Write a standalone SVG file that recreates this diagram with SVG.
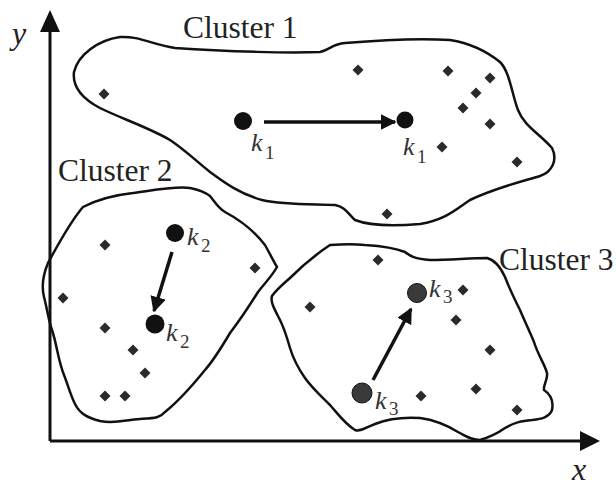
<svg xmlns="http://www.w3.org/2000/svg" width="616" height="488" viewBox="0 0 616 488">
<style>
.outline{fill:none;stroke:#111;stroke-width:2.5;stroke-linejoin:round}
.axis{fill:none;stroke:#111;stroke-width:3}
.arr{fill:none;stroke:#111;stroke-width:3.5}
.lbl{font-family:"Liberation Serif","Times New Roman",serif;font-size:31.5px;fill:#222}
.k{font-family:"Liberation Serif","Times New Roman",serif;font-style:italic;font-size:26px;fill:#333}
.sub{font-family:"Liberation Serif","Times New Roman",serif;font-size:19px;fill:#333}
.ax{font-family:"Liberation Serif","Times New Roman",serif;font-style:italic;font-size:32px;fill:#222}
.c{fill:#111}
.c3{fill:#3a3a3a;stroke:#111;stroke-width:1}
</style>
<defs>
<path id="d" d="M0,-5.5 L5.5,0 L0,5.5 L-5.5,0 Z" fill="#2a2a2a"/>
<marker id="ah" viewBox="0 0 10 10" refX="9" refY="5" markerWidth="4.5" markerHeight="4.5" markerUnits="strokeWidth" orient="auto">
<path d="M0,0 L10,5 L0,10 Z" fill="#111"/>
</marker>
</defs>
<rect width="616" height="488" fill="#fff"/>
<g id="axes">
<path class="axis" d="M50,441 V30"/>
<path d="M50,10 L40,32 L60,32 Z" fill="#111"/>
<path class="axis" d="M50,441 H582"/>
<path d="M600,441 L580,431 L580,451 Z" fill="#111"/>
<text class="ax" x="12" y="44">y</text>
<text class="ax" x="572" y="480">x</text>
</g>
<g id="cluster1">
<path class="outline" d="M120,37 C140,36 150,44 175,48 C230,52 290,53 320,52 C330,50 332,44 345,43 C380,40 420,38 450,40 C475,44 490,54 500,62 C510,72 512,95 518,110 C524,126 540,134 552,148 C558,160 552,172 540,176 C520,182 495,188 470,200 C455,210 445,220 420,224 C395,226 370,226 355,220 C348,214 346,207 335,205 C310,204 285,205 262,200 C240,194 225,183 210,172 C195,160 185,150 170,140 C150,128 120,118 100,108 C85,100 72,88 74,72 C78,55 98,40 120,37 Z"/>
<text class="lbl" x="183" y="38">Cluster 1</text>
<use href="#d" x="104" y="94"/>
<use href="#d" x="358" y="70"/>
<use href="#d" x="448" y="71"/>
<use href="#d" x="490" y="78"/>
<use href="#d" x="476" y="93"/>
<use href="#d" x="463" y="108"/>
<use href="#d" x="490" y="124"/>
<use href="#d" x="442" y="147"/>
<use href="#d" x="517" y="162"/>
<use href="#d" x="387" y="214"/>
<circle class="c" cx="243" cy="121" r="9"/>
<circle class="c" cx="405" cy="120" r="8.5"/>
<text class="k" x="251" y="151">k</text><text class="sub" x="265" y="159">1</text>
<text class="k" x="403" y="155">k</text><text class="sub" x="417" y="163">1</text>
</g>
<g id="cluster2">
<path class="outline" d="M83,207 C100,198 115,195 133,193 C155,190 175,186 190,188 C200,190 205,192 210,196 C215,202 218,208 225,212 C240,220 255,232 265,245 C270,254 274,262 277,267 C272,276 265,283 258,292 C248,308 240,320 230,333 C220,350 212,362 205,370 C192,386 180,400 165,412 C160,418 155,418 140,419 C125,420 115,424 100,421 C88,418 80,414 75,404 C70,394 68,385 64,375 C58,360 57,345 52,330 C48,318 47,308 44,297 C41,285 43,275 48,263 C55,250 70,222 83,207 Z"/>
<text class="lbl" x="58" y="181">Cluster 2</text>
<use href="#d" x="105" y="245"/>
<use href="#d" x="63" y="298"/>
<use href="#d" x="255" y="268"/>
<use href="#d" x="105" y="328"/>
<use href="#d" x="133" y="350"/>
<use href="#d" x="145" y="373"/>
<use href="#d" x="105" y="396"/>
<use href="#d" x="125" y="396"/>
<circle class="c" cx="175" cy="233" r="9"/>
<circle class="c" cx="155" cy="324" r="9.5"/>
<text class="k" x="187" y="245">k</text><text class="sub" x="201" y="252">2</text>
<text class="k" x="166" y="341">k</text><text class="sub" x="180" y="348">2</text>
</g>
<g id="cluster3">
<path class="outline" d="M330,245 C345,244 355,244 365,245 C380,246 395,248 405,252 C410,256 415,259 430,260 C450,260 470,258 487,258 C495,260 500,266 505,277 C510,290 515,300 520,310 C525,322 530,332 534,342 C538,355 545,365 547,373 C548,380 543,385 544,390 C550,394 554,400 552,410 C549,418 540,419 532,420 C522,421 515,422 505,428 C498,433 490,437 480,440 C472,440 465,436 458,432 C445,424 435,420 420,418 C405,417 390,418 375,424 C365,428 360,432 355,430 C345,424 338,414 330,405 C320,395 312,388 305,378 C298,368 293,358 290,348 C287,338 285,330 280,320 C275,310 270,302 272,296 C276,290 282,285 290,278 C300,268 315,255 330,245 Z"/>
<text class="lbl" x="499" y="270">Cluster 3</text>
<use href="#d" x="378" y="260"/>
<use href="#d" x="310" y="307"/>
<use href="#d" x="463" y="290"/>
<use href="#d" x="456" y="320"/>
<use href="#d" x="490" y="350"/>
<use href="#d" x="421" y="396"/>
<use href="#d" x="476" y="389"/>
<use href="#d" x="517" y="410"/>
<circle class="c3" cx="417" cy="293" r="9.5"/>
<circle class="c3" cx="362" cy="393" r="10"/>
<text class="k" x="429" y="297">k</text><text class="sub" x="443" y="303">3</text>
<text class="k" x="375" y="409">k</text><text class="sub" x="389" y="415">3</text>
</g>
<g id="connectors">
<line class="arr" x1="264" y1="122" x2="395" y2="122" marker-end="url(#ah)"/>
<line class="arr" x1="172" y1="252" x2="154" y2="311" marker-end="url(#ah)"/>
<line class="arr" x1="373" y1="380" x2="411" y2="309" marker-end="url(#ah)"/>
</g>
</svg>
